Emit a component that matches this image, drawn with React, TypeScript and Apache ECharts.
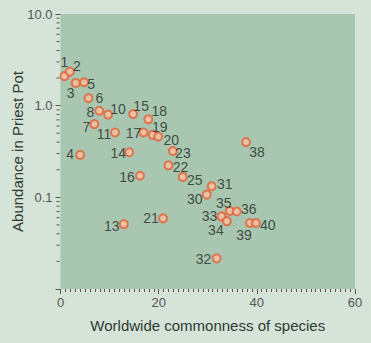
import React, { useEffect, useRef } from "react";
import * as echarts from "echarts";

// Species numbers, their worldwide commonness (x) and abundance in Priest Pot (y, log)
const speciesIds = [1, 2, 3, 4, 5, 6, 7, 8, 10, 11, 13, 14, 15, 16, 17, 18, 19, 20, 21, 22, 23, 25, 30, 31, 32, 33, 34, 35, 36, 38, 39, 40];
const commonness = [0.8, 1.9, 3.1, 4.0, 4.8, 5.7, 6.9, 7.9, 9.7, 11.1, 12.9, 14.0, 14.8, 16.2, 16.9, 17.9, 18.8, 19.9, 20.9, 22.0, 22.9, 24.9, 29.8, 30.8, 31.8, 32.8, 33.9, 34.5, 35.9, 37.8, 38.6, 39.8];
const abundance = [2.1, 2.35, 1.77, 0.29, 1.8, 1.21, 0.63, 0.88, 0.8, 0.51, 0.051, 0.31, 0.81, 0.172, 0.51, 0.71, 0.48, 0.46, 0.059, 0.223, 0.32, 0.167, 0.107, 0.132, 0.0216, 0.062, 0.055, 0.071, 0.07, 0.4, 0.0525, 0.0525];

// label placement (pixel offset of each number from its dot)
const labelOffsets: [number, number][] = [
  [0, -14], [7, -6], [-5, 10], [-10, -1], [7, 2], [11, 0], [-8, 3], [-9, 1], [10, -6], [-11, 2],
  [-12, 2], [-11, 1], [8, -8], [-13, 1], [-10, 1], [11, -8], [7, -8], [13, 3], [-12, 0], [12, 2],
  [10, 2], [12, 3], [-12, 4], [13, -2], [-13, 1], [-12, 0], [-11, 9], [-6, -8], [12, -3], [11, 10],
  [-6, 12], [12, 2],
];

// log minor tick values on the y axis
const yMinorTicks: number[] = [];
[0.01, 0.1, 1].forEach((d) => {
  for (let k = 2; k <= 9; k++) yMinorTicks.push(+(d * k).toPrecision(3));
});

const FONT = "'Liberation Sans', Arial, Helvetica, sans-serif";

export default function App() {
  const ref = useRef<HTMLDivElement>(null);
  useEffect(() => {
    if (!ref.current) return;
    const chart = echarts.init(ref.current, null, { renderer: "svg" });
    const points = speciesIds.map((id, i) => ({
      value: [commonness[i], abundance[i]],
      name: String(id),
      label: { offset: labelOffsets[i] },
    }));
    chart.setOption({
      animation: false,
      backgroundColor: "#d5e3d8",
      grid: {
        left: 60.5,
        right: 16,
        top: 14,
        bottom: 54,
        show: true,
        backgroundColor: "#a9c6b0",
        borderWidth: 0,
        outerBoundsMode: "none",
        containLabel: false,
      },
      xAxis: {
        type: "value",
        min: 0,
        max: 60,
        interval: 20,
        name: "Worldwide commonness of species",
        nameLocation: "middle",
        nameGap: 29,
        nameMoveOverlap: false,
        nameTextStyle: { fontFamily: FONT, fontSize: 15, color: "#2e3a34" },
        axisLine: { show: false },
        axisTick: { show: true, length: 5, lineStyle: { color: "#555", width: 1 } },
        minorTick: { show: true, splitNumber: 20, length: 3, lineStyle: { color: "#555", width: 1 } },
        splitLine: { show: false },
        axisLabel: { fontFamily: FONT, fontSize: 13, color: "#555", margin: 7 },
      },
      yAxis: {
        type: "log",
        logBase: 10,
        min: 0.01,
        max: 10,
        name: "Abundance in Priest Pot",
        nameLocation: "middle",
        nameGap: 36,
        nameMoveOverlap: false,
        nameTextStyle: { fontFamily: FONT, fontSize: 15, color: "#2e3a34" },
        axisLine: { show: false },
        axisTick: { show: true, length: 5, lineStyle: { color: "#555", width: 1 } },
        splitLine: { show: false },
        axisLabel: {
          fontFamily: FONT,
          fontSize: 13,
          color: "#555",
          margin: 8,
          formatter: (v: number) => (v >= 0.099 ? v.toFixed(1) : ""),
        },
      },
      series: [
        {
          type: "custom",
          clip: false,
          silent: true,
          data: yMinorTicks.map((v) => [0, v]),
          renderItem: (params: any, api: any) => {
            const p = api.coord([0, api.value(1)]);
            return {
              type: "line",
              shape: { x1: p[0] - 4, y1: p[1], x2: p[0] - 1, y2: p[1] },
              style: { stroke: "#555", lineWidth: 1 },
            };
          },
        },
        {
          type: "scatter",
          data: points,
          symbol: "circle",
          symbolSize: 8,
          itemStyle: { color: "#f7c0a0", borderColor: "#e2603a", borderWidth: 2 },
          label: {
            show: true,
            position: "inside",
            align: "center",
            verticalAlign: "middle",
            formatter: (p: any) => p.name,
            fontFamily: FONT,
            fontSize: 14,
            lineHeight: 13,
            color: "#1e2a25",
          },
          z: 3,
        },
      ],
    });
    return () => chart.dispose();
  }, []);
  return (
    <div
      ref={ref}
      style={{ position: "fixed", left: 0, top: 0, width: 371, height: 343 }}
    />
  );
}
